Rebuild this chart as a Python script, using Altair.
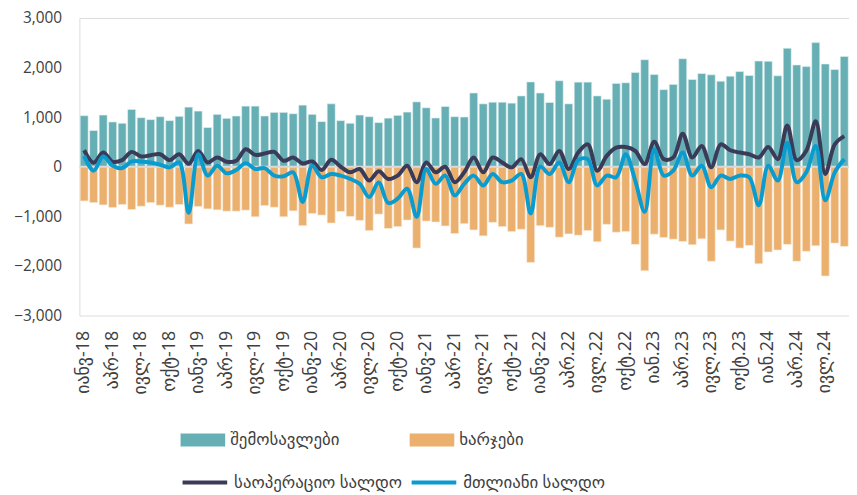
import altair as alt
import pandas as pd

# monthly data Jan 2018 .. Sep 2024 (81 months)
revenue = [1029, 730, 1042, 903, 876, 1155, 989, 950, 1009, 930, 1016, 1202, 1122, 790, 1056, 976,
           1023, 1222, 1222, 1023, 1096, 1096, 1069, 1242, 1056, 910, 1268, 930, 876, 1042, 1009, 890,
           980, 1036, 1102, 1308, 1189, 983, 1215, 1009, 1003, 1487, 1268, 1301, 1301, 1282, 1428, 1710,
           1487, 1295, 1733, 1268, 1706, 1706, 1428, 1361, 1680, 1693, 1899, 2158, 1859, 1554, 1660, 2178,
           1760, 1879, 1853, 1726, 1826, 1919, 1839, 2131, 2125, 1833, 2390, 2052, 2019, 2503, 2072, 1959, 2224]
expenses = [-690, -724, -770, -823, -763, -863, -797, -724, -777, -817, -763, -1155, -803, -850, -870, -896,
            -896, -876, -1009, -784, -817, -1009, -890, -1189, -943, -976, -1135, -903, -1003, -1082, -1288, -956,
            -1245, -1208, -1076, -1640, -1096, -1115, -1195, -1348, -1149, -1275, -1394, -1122, -1208, -1308, -1262, -1930,
            -1189, -1222, -1421, -1355, -1381, -1288, -1513, -1162, -1321, -1308, -1567, -2098, -1361, -1428, -1461, -1507,
            -1574, -1454, -1906, -1275, -1500, -1640, -1587, -1959, -1720, -1680, -1567, -1906, -1706, -1594, -2204, -1540, -1607]
operating = [332, 80, 285, 100, 133, 299, 206, 232, 252, 133, 252, 60, 319, 86, 186, 100,
             120, 352, 239, 266, 299, 120, 186, 66, 106, -66, 139, 0, -113, -46, -279, -90,
             -246, -179, 20, -312, 86, -113, 0, -312, -113, 186, -113, 186, 86, -13, 153, -212,
             250, 53, 319, -46, 286, 452, -80, 219, 385, 398, 319, 53, 505, 153, 186, 664,
             186, 418, -13, 452, 332, 286, 252, 186, 398, 153, 830, 133, 319, 916, -146, 452, 618]
total = [219, -80, 206, 20, -27, 106, 106, 86, 40, -13, 86, -930, 252, -179, 20, -133,
         -66, 73, -46, -27, -179, -193, -113, -710, 20, -212, -146, -179, -246, -345, -611, -320,
         -730, -644, -445, -1009, -46, -345, -179, -578, -345, -179, -378, -146, -312, -279, -146, -943,
         0, -146, 86, -312, 133, 153, -378, -179, -212, 252, -279, -910, 352, -179, -80, 286,
         -179, 20, -412, -179, -246, -179, -212, -777, 20, -279, 485, -312, -113, 418, -677, -113, 153]
tick_labels = ["იანვ-18", "აპრ-18", "ივლ-18", "ოქტ-18", "იანვ-19", "აპრ-19", "ივლ-19", "ოქტ-19",
               "იანვ-20", "აპრ-20", "ივლ-20", "ოქტ-20", "იანვ-21", "აპრ-21", "ივლ-21", "ოქტ-21",
               "იანვ-22", "აპრ.22", "ივლ.22", "ოქტ.22", "იან.23", "აპრ.23", "ივლ.23", "ოქტ.23",
               "იან.24", "აპრ.24", "ივლ.24"]
series_names = ["შემოსავლები", "ხარჯები", "საოპერაციო სალდო", "მთლიანი სალდო"]
series_colors = ["#65AFB5", "#ECB06E", "#3A3B58", "#0A9CCF"]

FONT = "Open Sans, DejaVu Sans"
n = len(revenue)
months = list(range(n))


def frame(vals, name):
    return pd.DataFrame({"m": months, "v": vals, "s": [name] * n})


label_js = "[" + ",".join("'" + t + "'" for t in tick_labels) + "][datum.value/3]"

x_enc = alt.X("m:O",
              scale=alt.Scale(paddingInner=0.16, paddingOuter=0.08),
              axis=alt.Axis(values=list(range(0, n, 3)), labelExpr=label_js, labelAngle=-90,
                            labelFontSize=18, labelColor="#404040", labelPadding=15,
                            ticks=False, domain=False, title=None, labelFont=FONT))
y_enc = alt.Y("v:Q",
              scale=alt.Scale(domain=[-3000, 3000], nice=False),
              axis=alt.Axis(values=[-3000, -2000, -1000, 0, 1000, 2000, 3000], format=",.0f",
                            labelFontSize=15.5, labelColor="#404040", labelPadding=18,
                            ticks=False, domain=False, grid=False, title=None, labelFont=FONT))

bar_path = "M-1,-0.29H1V0.29H-1Z"


def legend(x, y, stroke=False):
    kw = dict(orient="none", legendX=x, legendY=y, title=None, labelFontSize=17,
              labelColor="#404040", labelFont=FONT, symbolSize=2025, padding=0,
              labelOffset=5, labelLimit=400)
    if stroke:
        kw.update(symbolType="stroke", symbolStrokeWidth=4)
    else:
        kw.update(symbolType=bar_path, symbolStrokeWidth=0)
    return alt.Legend(**kw)


def color(i, lg):
    return alt.Color("s:N", scale=alt.Scale(domain=[series_names[i]], range=[series_colors[i]]),
                     legend=lg)


bars_rev = alt.Chart(frame(revenue, series_names[0])).mark_bar(
    stroke="#e8f2f2", strokeWidth=0.6).encode(
    x=x_enc, y=y_enc, color=color(0, legend(102, 403)))
bars_exp = alt.Chart(frame(expenses, series_names[1])).mark_bar(
    stroke="#f7eee2", strokeWidth=0.6).encode(
    x="m:O", y="v:Q", color=color(1, legend(333, 403)))
zero = alt.Chart(pd.DataFrame({"v": [0]})).mark_rule(color="#D9D9D9", strokeWidth=2).encode(y="v:Q")
line_op = alt.Chart(frame(operating, series_names[2])).mark_line(
    strokeWidth=4, interpolate="catmull-rom").encode(
    x=alt.X("m:O", bandPosition=0.5), y="v:Q", color=color(2, legend(102, 444, True)))
line_tot = alt.Chart(frame(total, series_names[3])).mark_line(
    strokeWidth=4, interpolate="catmull-rom").encode(
    x=alt.X("m:O", bandPosition=0.5), y="v:Q", color=color(3, legend(333, 444, True)))

chart = alt.layer(bars_rev, bars_exp, zero, line_op, line_tot).resolve_scale(
    color="independent"
).properties(
    width=776, height=300,
    padding={"left": 72, "top": 8, "right": 0, "bottom": 185},
    autosize=alt.AutoSizeParams(type="none"),
).configure_view(stroke=None).configure(background="white")

chart.save("out.html", embed_options={"renderer": "svg", "actions": False})
